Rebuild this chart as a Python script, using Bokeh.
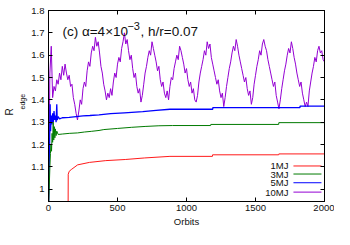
from bokeh.plotting import figure
from bokeh.models import Range1d, FixedTicker, LinearAxis, Label, Title, CustomJSTickFormatter
from bokeh.embed import file_html
from bokeh.resources import INLINE

# ---------------- data ----------------
# 10MJ, sampled every 10 orbits from 0 to 2000
r10_vals = [0.90, 1.52, 1.64, 1.41, 1.46, 1.44, 1.49, 1.47, 1.52, 1.49, 1.55,
            1.51, 1.56, 1.52, 1.49, 1.51, 1.46, 1.47, 1.41, 1.38, 1.34,
            1.31, 1.35, 1.40, 1.38, 1.45, 1.48, 1.46, 1.53, 1.57, 1.55,
            1.61, 1.64, 1.62, 1.68, 1.64, 1.66, 1.61, 1.55, 1.52, 1.47,
            1.44, 1.40, 1.43, 1.41, 1.45, 1.42, 1.48, 1.52, 1.50, 1.56,
            1.59, 1.57, 1.63, 1.66, 1.70, 1.65, 1.67, 1.62, 1.58, 1.60,
            1.54, 1.50, 1.52, 1.46, 1.43, 1.45, 1.39, 1.42, 1.47, 1.52,
            1.55, 1.59, 1.62, 1.60, 1.66, 1.63, 1.60, 1.57, 1.53, 1.55,
            1.49, 1.46, 1.48, 1.43, 1.41, 1.44, 1.40, 1.46, 1.50, 1.49,
            1.54, 1.57, 1.60, 1.58, 1.64, 1.62, 1.59, 1.56, 1.52, 1.54,
            1.49, 1.46, 1.48, 1.43, 1.45, 1.40, 1.39, 1.42, 1.48, 1.52,
            1.55, 1.58, 1.62, 1.60, 1.66, 1.63, 1.65, 1.59, 1.56, 1.53,
            1.50, 1.47, 1.49, 1.44, 1.41, 1.43, 1.37, 1.41, 1.46, 1.50,
            1.54, 1.57, 1.61, 1.64, 1.62, 1.67, 1.64, 1.60, 1.57, 1.54,
            1.51, 1.48, 1.50, 1.45, 1.42, 1.44, 1.38, 1.41, 1.47, 1.51,
            1.55, 1.58, 1.62, 1.60, 1.65, 1.67, 1.64, 1.62, 1.58, 1.55,
            1.52, 1.49, 1.46, 1.48, 1.42, 1.39, 1.36, 1.40, 1.45, 1.49,
            1.53, 1.56, 1.60, 1.63, 1.61, 1.66, 1.63, 1.59, 1.56, 1.52,
            1.49, 1.46, 1.48, 1.43, 1.40, 1.37, 1.39, 1.37, 1.44, 1.48,
            1.52, 1.55, 1.59, 1.57, 1.62, 1.64, 1.61, 1.62, 1.58, 1.57]
r10_orbits = list(range(0, 10 * len(r10_vals), 10))

r5_orbits = [0, 8, 12, 15, 20, 25, 30, 35, 40, 45, 50, 55, 60, 63, 70, 80, 100,
             150, 200, 250, 300, 366, 450, 550, 683, 780, 880, 1190, 1191,
             1822, 1823, 2000]
r5_vals = [0.90, 1.20, 1.38, 1.26, 1.33, 1.29, 1.34, 1.30, 1.35, 1.31, 1.33,
           1.30, 1.38, 1.31, 1.325, 1.315, 1.32, 1.322, 1.325, 1.328, 1.33,
           1.333, 1.338, 1.342, 1.347, 1.353, 1.358, 1.358, 1.365, 1.365,
           1.372, 1.372]

r3_orbits = [0, 10, 14, 18, 22, 26, 30, 34, 38, 42, 46, 50, 55, 60, 70, 100,
             150, 211, 260, 310, 366, 401, 500, 600, 700, 800, 900, 1175,
             1176, 1668, 1669, 2000]
r3_vals = [0.90, 1.10, 1.16, 1.20, 1.17, 1.25, 1.21, 1.30, 1.22, 1.28, 1.23,
           1.27, 1.24, 1.26, 1.245, 1.247, 1.25, 1.252, 1.256, 1.259, 1.263,
           1.267, 1.272, 1.277, 1.281, 1.284, 1.285, 1.285, 1.29, 1.29,
           1.298, 1.298]

r1_orbits = [142, 143, 150, 165, 211, 296, 415, 556, 697, 880, 1188, 1189,
             1668, 1669, 2000]
r1_vals = [0.90, 1.067, 1.08, 1.088, 1.109, 1.12, 1.128, 1.133, 1.14, 1.147,
           1.147, 1.154, 1.154, 1.158, 1.158]

series_names = ["1MJ", "3MJ", "5MJ", "10MJ"]
series_colors = ["#ff1a1a", "#007a00", "#0000ff", "#9400d3"]

x_ticks = [0, 500, 1000, 1500, 2000]
y_ticks = [1.0, 1.1, 1.2, 1.3, 1.4, 1.5, 1.6, 1.7, 1.8]

# ---------------- figure ----------------
FONT = "Liberation Sans"
p = figure(width=334, height=229, output_backend="svg", toolbar_location=None,
           x_range=Range1d(0, 2000), y_range=Range1d(0.945, 1.8),
           min_border_left=48, min_border_right=10, min_border_top=10,
           min_border_bottom=25)
p.xgrid.visible = False
p.ygrid.visible = False
p.outline_line_color = "black"
p.outline_line_width = 1
p.background_fill_color = "white"
p.border_fill_color = "white"

fmt_y = CustomJSTickFormatter(code="return (Math.round(tick*10)/10).toString();")
fmt_blank = CustomJSTickFormatter(code="return '';")

def style_axis(ax):
    ax.major_tick_in = 4
    ax.major_tick_out = 0
    ax.minor_tick_in = 0
    ax.minor_tick_out = 0
    ax.axis_line_color = "black"
    ax.major_tick_line_color = "black"
    ax.major_label_text_font = FONT
    ax.major_label_text_font_size = "9.5px"
    ax.major_label_text_color = "#111111"
    ax.major_label_standoff = 5

p.xaxis.ticker = FixedTicker(ticks=x_ticks)
p.yaxis.ticker = FixedTicker(ticks=y_ticks)
p.yaxis.formatter = fmt_y
style_axis(p.xaxis[0])
style_axis(p.yaxis[0])
p.yaxis.major_label_standoff = 4
p.xaxis.major_label_standoff = 3
p.xaxis.axis_label = "Orbits"
p.xaxis.axis_label_text_font = FONT
p.xaxis.axis_label_text_font_size = "9.5px"
p.xaxis.axis_label_text_font_style = "normal"
p.xaxis.axis_label_text_color = "#111111"
p.xaxis.axis_label_standoff = 2

# y label "R_edge": two stacked left titles (subscript nearer the ticks),
# aligned from the bottom of the panel and lifted by an offset
edge_title = Title(text="edge", align="left", offset=92, standoff=5,
                   text_font=FONT, text_font_size="7px",
                   text_font_style="normal", text_color="#111111")
r_title = Title(text="R", align="left", offset=86, standoff=0,
                text_font=FONT, text_font_size="10px",
                text_font_style="normal", text_color="#111111")
p.add_layout(edge_title, "left")
p.add_layout(r_title, "left")

top_ax = LinearAxis(ticker=FixedTicker(ticks=x_ticks), formatter=fmt_blank)
style_axis(top_ax)
top_ax.major_label_standoff = 0
right_ax = LinearAxis(ticker=FixedTicker(ticks=y_ticks), formatter=fmt_blank)
style_axis(right_ax)
right_ax.major_label_standoff = 0
p.add_layout(top_ax, "above")
p.add_layout(right_ax, "right")

# ---------------- data lines ----------------
p.line(r10_orbits, r10_vals, line_color=series_colors[3], line_width=1)
p.line(r5_orbits, r5_vals, line_color=series_colors[2], line_width=1.3)
p.line(r3_orbits, r3_vals, line_color=series_colors[1], line_width=1)
p.line(r1_orbits, r1_vals, line_color=series_colors[0], line_width=1)

# ---------------- key (text left, sample right) ----------------
key_y = [1.104, 1.068, 1.029, 0.987]
for name, col, yy in zip(series_names, series_colors, key_y):
    p.add_layout(Label(x=1739, y=yy, text=name, text_align="right",
                       text_baseline="middle", text_font=FONT,
                       text_font_size="9.5px", text_color="#111111"))
    p.segment(x0=[1775], y0=[yy], x1=[1978], y1=[yy], line_color=col,
              line_width=1)

# ---------------- title text inside panel ----------------
p.add_layout(Label(x=101, y=1.708, text="(c) α=4×10", text_font=FONT,
                   text_font_size="13.5px", text_baseline="alphabetic",
                   text_color="#111111"))
p.add_layout(Label(x=572, y=1.7295, text="−3", text_font=FONT,
                   text_font_size="11px", text_baseline="alphabetic",
                   text_color="#111111"))
p.add_layout(Label(x=667, y=1.708, text=", h/r=0.07", text_font=FONT,
                   text_font_size="13.5px", text_baseline="alphabetic",
                   text_color="#111111"))

open("out.html", "w").write(file_html(p, INLINE))
